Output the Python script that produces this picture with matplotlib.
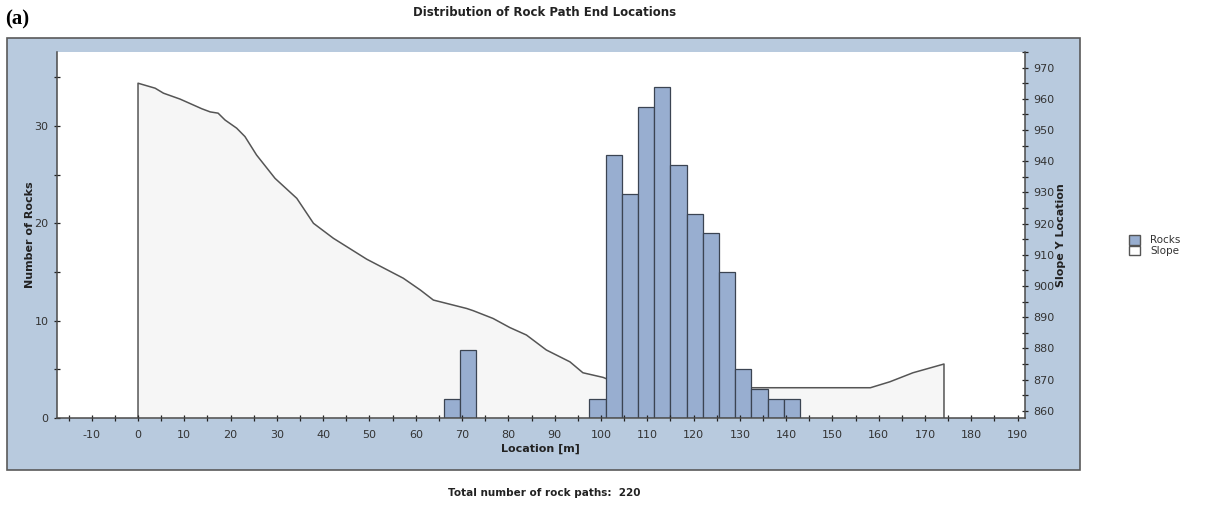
import matplotlib
matplotlib.use("Agg")
import matplotlib.pyplot as plt
from matplotlib.patches import Rectangle, Patch
from matplotlib.ticker import MultipleLocator

# rock end-location histogram (bin left edges, bin width 3.5 m)
bin_left = [66, 69.5, 97.5, 101, 104.5, 108, 111.5, 115, 118.5, 122, 125.5, 129, 132.5, 136, 139.5]
bin_width = 3.5
counts = [2, 7, 2, 27, 23, 32, 34, 26, 21, 19, 15, 5, 3, 2, 2]

# slope profile (location [m], elevation)
slope_x = [0, 3.7, 5.5, 9.1, 13.8, 15.6, 17.3, 18.8, 21.3, 23.1, 25.6, 29.6, 34.3, 37.9,
           42.2, 49.4, 57.3, 61.0, 63.8, 71.0, 72.4, 76.7, 80.3, 83.9, 88.2, 93.3, 96.1,
           100.5, 104, 110, 158.2, 162.4, 167.4, 174.1]
slope_y = [965.0, 963.4, 961.8, 959.9, 956.8, 955.8, 955.4, 953.2, 950.6, 947.9, 942.0,
           934.5, 928.1, 920.1, 915.3, 908.6, 902.5, 898.7, 895.5, 892.8, 892.1, 889.6,
           886.7, 884.3, 879.5, 875.7, 872.2, 870.7, 868.5, 867.4, 867.4, 869.3, 872.2, 875.0]

total_paths = sum(counts)

PANEL = "#b8cade"
BAR = "#98aed0"
BAR_EDGE = "#3b4452"
SLOPE_FILL = "#f6f6f6"
SLOPE_LINE = "#555555"
TXT = "#333333"

plt.rcParams["font.family"] = "DejaVu Sans"
plt.rcParams["axes.unicode_minus"] = False

W, H = 1206, 507
fig = plt.figure(figsize=(W / 100, H / 100), dpi=100)

# grey-blue frame behind the plot
fig.patches.append(Rectangle((7 / W, 1 - 470 / H), (1080 - 7) / W, (470 - 38) / H,
                             transform=fig.transFigure, facecolor=PANEL,
                             edgecolor="#5a5a5a", linewidth=1.2, zorder=-5))

ax = fig.add_axes([57 / W, 1 - 418 / H, (1025 - 57) / W, (418 - 52) / H])
ax2 = ax.twinx()
ax.set_zorder(2)
ax2.set_zorder(1)
ax.patch.set_visible(False)
ax2.patch.set_visible(True)
ax2.patch.set_facecolor("white")

x0, x1 = -17.5, 191.6
ylo2, yhi2 = 857.7, 975.0

# slope
ax2.fill_between(slope_x, slope_y, ylo2, color=SLOPE_FILL, linewidth=0)
ax2.plot([slope_x[0]] + slope_x + [slope_x[-1]], [ylo2] + slope_y + [ylo2],
         color=SLOPE_LINE, linewidth=1.1)
ax2.set_ylim(ylo2, yhi2)

# rocks
ax.bar(bin_left, counts, width=bin_width, align="edge", color=BAR,
       edgecolor=BAR_EDGE, linewidth=0.9)
ax.set_xlim(x0, x1)
ax.set_ylim(0, 37.6)

ax.xaxis.set_major_locator(MultipleLocator(10))
ax.xaxis.set_minor_locator(MultipleLocator(5))
ax.yaxis.set_major_locator(MultipleLocator(10))
ax.yaxis.set_minor_locator(MultipleLocator(5))
ax2.yaxis.set_major_locator(MultipleLocator(10))
ax2.yaxis.set_minor_locator(MultipleLocator(5))

for a in (ax, ax2):
    a.tick_params(which="both", direction="inout", colors="#222222",
                  labelcolor=TXT, labelsize=8, width=0.9)
    a.tick_params(which="major", length=5)
    a.tick_params(which="minor", length=4)
    for s in a.spines.values():
        s.set_color("#4a4a4a")
        s.set_linewidth(1.1)
    a.spines["top"].set_visible(False)
ax2.spines["left"].set_visible(False)
ax.spines["right"].set_visible(False)
ax2.spines["bottom"].set_visible(False)
ax.tick_params(axis="x", pad=6)

fig.text(545 / W, 1 - 12 / H, "Distribution of Rock Path End Locations",
         ha="center", va="center", fontsize=8.5, fontweight="bold", color="#222222")
fig.text(5 / W, 1 - 19 / H, "(a)", ha="left", va="center", fontsize=15,
         fontweight="bold", family="Liberation Serif", color="black")
fig.text(540 / W, 1 - 449 / H, "Location [m]", ha="center", va="center",
         fontsize=8, fontweight="bold", color="#222222")
fig.text(30 / W, 1 - 235 / H, "Number of Rocks", ha="center", va="center",
         rotation=90, fontsize=8, fontweight="bold", color="#222222")
fig.text(1061 / W, 1 - 235 / H, "Slope Y Location", ha="center", va="center",
         rotation=90, fontsize=8, fontweight="bold", color="#222222")
fig.text(544 / W, 1 - 493 / H, "Total number of rock paths:  %d" % total_paths,
         ha="center", va="center", fontsize=7.5, fontweight="bold", color="#222222")

handles = [Patch(facecolor=BAR, edgecolor="#555555", label="Rocks"),
           Patch(facecolor="white", edgecolor="#555555", label="Slope")]
fig.legend(handles=handles, loc="upper left", bbox_to_anchor=(1124 / W, 1 - 230 / H),
           frameon=False, fontsize=7.5, handlelength=1.0, handleheight=1.0,
           handletextpad=1.0, labelspacing=0.05, borderpad=0, labelcolor=TXT)

fig.savefig("out.png", dpi=100)
